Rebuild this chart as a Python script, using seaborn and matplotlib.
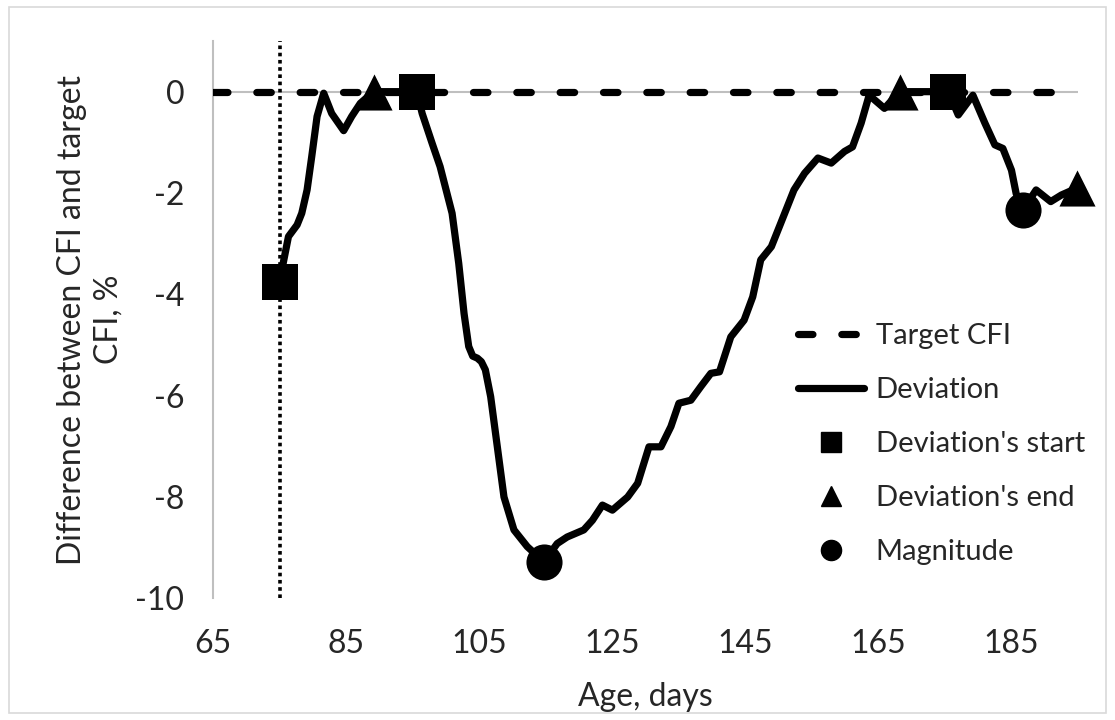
import matplotlib
matplotlib.use("Agg")
import matplotlib.pyplot as plt
import seaborn as sns
from matplotlib.lines import Line2D
from matplotlib.patches import Rectangle

# values
age = [75.05, 75.5, 76.3, 77.6, 78.3, 79.1, 79.8, 80.6, 81.6, 82.8, 84.6, 85.8,
       87.1, 89.1, 95.6, 96.4, 97.9, 99.1, 100.9, 101.9, 102.7, 103.4, 104.0,
       104.7, 105.3, 105.9, 106.7, 107.7, 108.7, 110.2, 112.2, 114.7, 116.7,
       118.2, 120.7, 122.0, 123.5, 125.0, 127.3, 128.8, 130.5, 132.3, 133.8,
       135.0, 136.8, 138.3, 139.8, 141.1, 142.8, 144.8, 146.1, 147.3, 148.9,
       150.3, 152.3, 153.9, 155.9, 157.9, 159.9, 161.1, 162.4, 163.6, 165.9,
       168.2, 175.5, 177.0, 179.2, 181.0, 182.5, 183.7, 185.0, 185.7, 186.7,
       188.7, 190.9, 192.5, 194.9]
deviation = [-3.76, -3.39, -2.86, -2.63, -2.40, -1.94, -1.28, -0.49, -0.03,
             -0.43, -0.77, -0.49, -0.23, 0.0, 0.0, -0.43, -1.02, -1.48, -2.40,
             -3.39, -4.38, -5.03, -5.22, -5.26, -5.33, -5.49, -6.02, -7.01,
             -8.00, -8.65, -8.98, -9.28, -8.92, -8.79, -8.65, -8.46, -8.16,
             -8.26, -8.00, -7.73, -7.01, -7.01, -6.61, -6.15, -6.09, -5.82,
             -5.56, -5.53, -4.84, -4.51, -4.05, -3.32, -3.06, -2.60, -1.94,
             -1.61, -1.31, -1.41, -1.18, -1.09, -0.62, -0.07, -0.33, 0.0, 0.0,
             -0.46, -0.07, -0.62, -1.05, -1.12, -1.55, -2.01, -2.34, -1.94,
             -2.17, -2.04, -1.90]

target_age = [65, 195]
target_value = [0, 0]

start_age = [75.05, 95.6, 175.5]
start_value = [-3.76, 0.0, 0.0]
end_age = [89.1, 168.2, 194.9]
end_value = [0.0, 0.0, -1.90]
magnitude_age = [114.7, 186.7]
magnitude_value = [-9.28, -2.34]

cutoff_age = 75.05

x_ticks = [65, 85, 105, 125, 145, 165, 185]
y_ticks = [0, -2, -4, -6, -8, -10]
y_labels = ["0", "-2", "-4", "-6", "-8", "-10"]

sns.set_theme(style="white")
plt.rcParams["font.family"] = ["Lato", "DejaVu Sans"]
FS = 23
LEG_FS = 21
LW = 5.2

W, H = 1115, 720
fig = plt.figure(figsize=(W / 100, H / 100), dpi=100)
ax = fig.add_axes([213.3 / W, 1 - 598.3 / H, (1078 - 213.3) / W, (598.3 - 41) / H])

grey = "#BFBFBF"
ax.axhline(0, color=grey, lw=1.5, zorder=1)
ax.axvline(cutoff_age, color="black", lw=2.6, ls=(0, (1, 1)), zorder=2)

sns.lineplot(x=target_age, y=target_value, ax=ax, color="black", zorder=3)
target_line = ax.lines[-1]
target_line.set_linewidth(LW)
target_line.set_dashes((2, 4))
target_line.set_dash_capstyle("round")

sns.lineplot(x=age, y=deviation, ax=ax, color="black", sort=False,
             estimator=None, zorder=4)
dev_line = ax.lines[-1]
dev_line.set_linewidth(LW)
dev_line.set_solid_capstyle("round")
dev_line.set_solid_joinstyle("round")

msize = 26 ** 2
sns.scatterplot(x=start_age, y=start_value, ax=ax, marker="s", s=msize,
                color="black", linewidth=0, zorder=5, clip_on=False)
sns.scatterplot(x=end_age, y=end_value, ax=ax, marker="^", s=msize,
                color="black", linewidth=0, zorder=5, clip_on=False)
sns.scatterplot(x=magnitude_age, y=magnitude_value, ax=ax, marker="o", s=msize,
                color="black", linewidth=0, zorder=5, clip_on=False)

ax.set_xlim(65, 195)
ax.set_ylim(-10, 1)
ax.set_xticks(x_ticks)
ax.set_yticks(y_ticks)
ax.set_yticklabels(y_labels)
ax.tick_params(axis="x", length=0, pad=22, labelsize=FS)
ax.tick_params(axis="y", length=0, pad=21, labelsize=FS)

for side in ["top", "right", "bottom"]:
    ax.spines[side].set_visible(False)
ax.spines["left"].set_color(grey)
ax.spines["left"].set_linewidth(1.5)

ax.set_xlabel("Age, days", fontsize=FS, labelpad=17)
ax.set_ylabel("Difference between CFI and target\nCFI, %", fontsize=FS,
              labelpad=8, linespacing=1.3)

handles = [
    Line2D([], [], color="black", lw=LW, dashes=(2, 4), dash_capstyle="round"),
    Line2D([], [], color="black", lw=LW),
    Line2D([], [], color="black", marker="s", ls="none", markersize=14.5),
    Line2D([], [], color="black", marker="^", ls="none", markersize=14.5),
    Line2D([], [], color="black", marker="o", ls="none", markersize=14.5),
]
labels = ["Target CFI", "Deviation", "Deviation's start", "Deviation's end",
          "Magnitude"]
fig.legend(handles, labels, loc="upper left",
           bbox_to_anchor=(798 / W, 1 - 323 / H), bbox_transform=fig.transFigure,
           frameon=False, fontsize=LEG_FS, handlelength=2.25, handletextpad=0.42,
           labelspacing=0.96, borderpad=0, borderaxespad=0)

fig.patches.append(Rectangle((9 / W, 7 / H), 1 - 18 / W, 1 - 14 / H,
                             transform=fig.transFigure, fill=False,
                             edgecolor="#D9D9D9", lw=1.2))

fig.savefig("out.png", dpi=100)
